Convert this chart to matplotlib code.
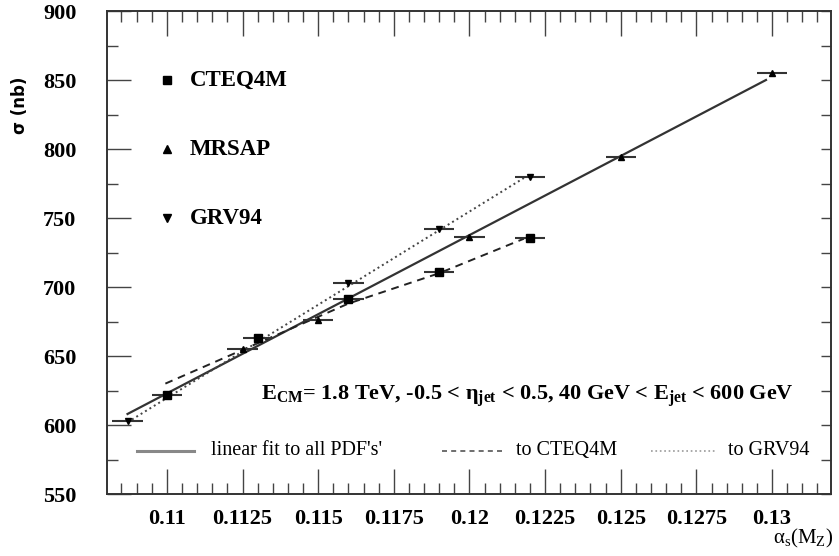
import numpy as np
import matplotlib
matplotlib.use("Agg")
import matplotlib.pyplot as plt
from matplotlib.ticker import MultipleLocator

# cross sections (nb) vs alpha_s(M_Z) for three PDF families
cteq_x = [0.110, 0.113, 0.116, 0.119, 0.122]
cteq_y = [622, 663, 691.5, 711, 735.5]
mrsap_x = [0.1125, 0.115, 0.120, 0.125, 0.130]
mrsap_y = [655, 676, 736, 794, 855]
grv_x = [0.1087, 0.116, 0.119, 0.122]
grv_y = [603, 703, 742, 779.5]
x_err = 0.0005

# fit curves
fit_all_x = [0.1087, 0.1298]
fit_all_y = [608, 850]
fit_cteq_x = [0.10995, 0.116, 0.119, 0.1218]
fit_cteq_y = [630, 688, 710, 735]
fit_grv_x = [0.1087, 0.1218]
fit_grv_y = [602, 779]

x_ticks = [0.11, 0.1125, 0.115, 0.1175, 0.12, 0.1225, 0.125, 0.1275, 0.13]
x_tick_labels = ['0.11', '0.1125', '0.115', '0.1175', '0.12', '0.1225', '0.125', '0.1275', '0.13']
y_ticks = [550, 600, 650, 700, 750, 800, 850, 900]

serif = 'Liberation Serif'
plt.rcParams['mathtext.fontset'] = 'custom'
plt.rcParams['mathtext.rm'] = serif
plt.rcParams['mathtext.it'] = serif + ':italic'
plt.rcParams['mathtext.bf'] = serif + ':bold'

fig = plt.figure(figsize=(8.39, 5.56), dpi=100)
ax = fig.add_axes([0.1275, 0.1115, 0.863, 0.8687])

ax.plot(fit_all_x, fit_all_y, '-', color='#333333', lw=1.6)
ax.plot(fit_cteq_x, fit_cteq_y, '--', color='#222222', lw=1.4, dashes=(4, 3))
ax.plot(fit_grv_x, fit_grv_y, ':', color='#444444', lw=1.4)

ebar = dict(fmt='none', ecolor='#333333', elinewidth=1.5, capsize=0)
ax.errorbar(cteq_x, cteq_y, xerr=x_err, **ebar)
ax.errorbar(mrsap_x, mrsap_y, xerr=x_err, **ebar)
ax.errorbar(grv_x, grv_y, xerr=x_err, **ebar)
ax.plot(cteq_x, cteq_y, 's', color='black', ms=5.5, ls='none')
ax.plot(mrsap_x, mrsap_y, '^', color='black', ms=5, ls='none')
ax.plot(grv_x, grv_y, 'v', color='black', ms=5, ls='none')

ax.set_xlim(0.10802, 0.13195)
ax.set_ylim(550, 900)
ax.set_xticks(x_ticks)
ax.set_xticklabels(x_tick_labels)
ax.set_yticks(y_ticks)
ax.xaxis.set_minor_locator(MultipleLocator(0.0005))
ax.yaxis.set_minor_locator(MultipleLocator(25))

for s in ax.spines.values():
    s.set_linewidth(1.4)
    s.set_color('#333333')
ax.tick_params(axis='x', which='major', direction='in', length=18, width=1, top=True,
               pad=11, colors='#444444', labelcolor='black')
ax.tick_params(axis='x', which='minor', direction='in', length=8, width=1, top=True, colors='#444444')
ax.tick_params(axis='y', which='major', direction='in', length=17, width=1, right=False,
               pad=22, colors='#444444', labelcolor='black')
ax.tick_params(axis='y', which='minor', direction='in', length=8, width=1, right=False, colors='#444444')
for lab in ax.get_xticklabels() + ax.get_yticklabels():
    lab.set_fontfamily(serif)
    lab.set_fontweight('bold')
    lab.set_fontsize(16)

sec = ax.secondary_yaxis('right')
sec.set_yticks(y_ticks)
sec.yaxis.set_minor_locator(MultipleLocator(25))
sec.tick_params(which='both', direction='in', length=7, width=1, labelright=False, colors='#444444')
sec.spines['right'].set_visible(False)

# marker legend
leg_x = 0.11
for lx, ly, mk, txt in [(leg_x, 850, 's', 'CTEQ4M'), (leg_x, 800, '^', 'MRSAP'), (leg_x, 750, 'v', 'GRV94')]:
    ax.plot([lx], [ly], mk, color='black', ms=6)
    ax.text(lx + 0.00075, ly, txt, fontfamily=serif, fontweight='bold', fontsize=16.5,
            va='center', ha='left')

ax.text(0.1131, 621,
        r'E$_{\mathregular{CM}}$= 1.8 TeV, -0.5 < $\mathregular{\eta}_{\mathregular{jet}}$ < 0.5, '
        r'40 GeV < E$_{\mathregular{jet}}$ < 600 GeV',
        fontfamily=serif, fontweight='bold', fontsize=16, va='center', ha='left')

# line legend
ly = 581.5
ax.plot([0.1090, 0.1109], [ly, ly], '-', color='#888888', lw=2.2)
ax.text(0.11145, ly, "linear fit to all PDF's'", fontfamily=serif, fontsize=14.5, va='center', ha='left')
ax.plot([0.1191, 0.1211], [ly, ly], '--', color='#555555', lw=1.2, dashes=(3, 2.5))
ax.text(0.12155, ly, 'to CTEQ4M', fontfamily=serif, fontsize=14.5, va='center', ha='left')
ax.plot([0.1260, 0.1281], [ly, ly], ':', color='#999999', lw=1.2)
ax.text(0.12855, ly, 'to GRV94', fontfamily=serif, fontsize=14.5, va='center', ha='left')

fig.text(0.024, 0.81, '\u03c3 (nb)', rotation=90, fontfamily='DejaVu Sans', fontweight='bold',
         fontsize=12, ha='center', va='center')
fig.text(0.921, 0.032, r'$\mathregular{\alpha_s(M_Z)}$', fontfamily=serif, fontsize=15,
         ha='left', va='center')

fig.savefig('out.png', dpi=100)
